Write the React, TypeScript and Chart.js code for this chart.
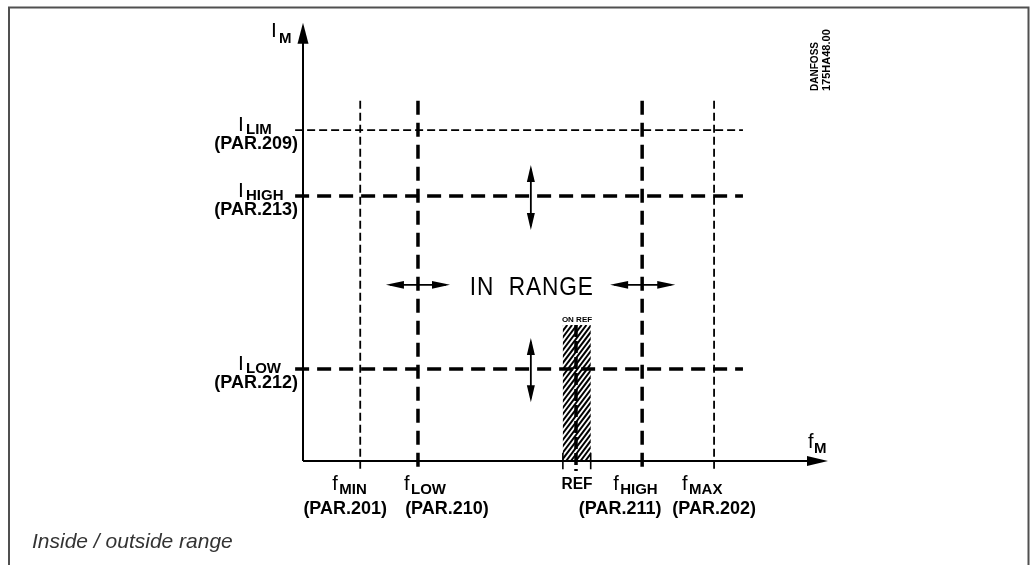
import React, { useEffect, useRef } from "react";
import { Chart, registerables } from "chart.js";

Chart.register(...registerables);

// ---- data (diagram units: x = motor frequency, y = motor current, 0..100) ----
const currentNames = ["LIM", "HIGH", "LOW"];
const currentPars = ["(PAR.209)", "(PAR.213)", "(PAR.212)"];
const currentLevels = [75.9, 60.8, 21.1];

const freqNames = ["MIN", "LOW", "HIGH", "MAX"];
const freqPars = ["(PAR.201)", "(PAR.210)", "(PAR.211)", "(PAR.202)"];
const freqLevels = [10.9, 21.9, 64.6, 78.3];

const refBand = [49.5, 52.0, 54.8];
const refBandTop = 31.2;
const hLineSpan = [-1.5, 83.8];
const vLineSpan = [-2.3, 82.6];
const axisMax = [100, 100.5];

const inRangeText = "IN RANGE";
const inRangeLevel = 40.4;
const currentArrowFreq = 43.4;
const currentArrowSpans = [
  [53.0, 67.9],
  [13.5, 28.2],
];
const freqArrowSpans = [
  [15.8, 28.0],
  [58.5, 70.9],
];

const caption = "Inside / outside range";
const stampLines = ["DANFOSS", "175HA48.00"];

// ---- layout / style (not data) ----
const FONT = '"Liberation Sans", Arial, sans-serif';
const THICK = { w: 3.5, dash: [14, 8] };
const THIN = { w: 1.8, dash: [8, 4] };
const freqLabelShift = [-28, -14, -29, -32];
const freqParShift = [-15, 29, -22, 0];
const thinCurrent = [true, false, false];
const thinFreq = [true, false, false, true];

function seg(pts: number[][], w: number, dash: number[]) {
  return {
    type: "scatter" as const,
    data: pts.map((p) => ({ x: p[0], y: p[1] })),
    showLine: true,
    borderColor: "#000",
    backgroundColor: "#000",
    borderWidth: w,
    borderDash: dash,
    borderCapStyle: "butt" as const,
    pointRadius: 0,
    pointHoverRadius: 0,
    clip: false as any,
  };
}

function buildDatasets() {
  const ds: any[] = [];
  ds.push(seg([[0, 0], [axisMax[0] - 3, 0]], 2, []));
  ds.push(seg([[0, 0], [0, axisMax[1] - 3]], 2, []));
  currentLevels.forEach((v, i) => {
    const st = thinCurrent[i] ? THIN : THICK;
    ds.push(seg([[hLineSpan[0], v], [hLineSpan[1], v]], st.w, st.dash));
  });
  freqLevels.forEach((v, i) => {
    const st = thinFreq[i] ? THIN : THICK;
    ds.push(seg([[v, vLineSpan[1]], [v, vLineSpan[0]]], st.w, st.dash));
  });
  ds.push(seg([[refBand[1], refBandTop], [refBand[1], vLineSpan[0]]], THICK.w, [12, 4]));
  ds.push(seg([[refBand[0], 1.9], [refBand[0], -1.9]], 1.6, []));
  ds.push(seg([[refBand[2], 1.9], [refBand[2], -1.9]], 1.6, []));
  return ds;
}

function head(ctx: CanvasRenderingContext2D, tx: number, ty: number, dx: number, dy: number, len: number, hw: number) {
  const bx = tx - dx * len;
  const by = ty - dy * len;
  ctx.beginPath();
  ctx.moveTo(tx, ty);
  ctx.lineTo(bx - dy * hw, by + dx * hw);
  ctx.lineTo(bx + dy * hw, by - dx * hw);
  ctx.closePath();
  ctx.fill();
}

function doubleArrow(ctx: CanvasRenderingContext2D, x1: number, y1: number, x2: number, y2: number, len: number, hw: number) {
  const L = Math.hypot(x2 - x1, y2 - y1);
  const dx = (x2 - x1) / L;
  const dy = (y2 - y1) / L;
  ctx.lineWidth = 1.8;
  ctx.setLineDash([]);
  ctx.beginPath();
  ctx.moveTo(x1 + dx * 4, y1 + dy * 4);
  ctx.lineTo(x2 - dx * 4, y2 - dy * 4);
  ctx.stroke();
  head(ctx, x2, y2, dx, dy, len, hw);
  head(ctx, x1, y1, -dx, -dy, len, hw);
}

function txt(ctx: CanvasRenderingContext2D, s: string, x: number, y: number, font: string, align: CanvasTextAlign = "left", maxW?: number) {
  ctx.font = font + " " + FONT;
  ctx.textAlign = align;
  ctx.textBaseline = "alphabetic";
  if (maxW) ctx.fillText(s, x, y, maxW);
  else ctx.fillText(s, x, y);
}

const diagramPlugin = {
  id: "diagram",
  beforeDatasetsDraw(chart: any) {
    const { ctx, scales } = chart;
    const X = (v: number) => scales.x.getPixelForValue(v);
    const Y = (v: number) => scales.y.getPixelForValue(v);
    ctx.save();
    ctx.strokeStyle = "#505050";
    ctx.lineWidth = 2;
    ctx.setLineDash([]);
    ctx.beginPath();
    ctx.moveTo(9, 565);
    ctx.lineTo(9, 7.5);
    ctx.lineTo(1028.5, 7.5);
    ctx.lineTo(1028.5, 565);
    ctx.stroke();
    const bx0 = X(refBand[0]);
    const bx1 = X(refBand[2]);
    const by0 = Y(refBandTop);
    const by1 = Y(0);
    ctx.beginPath();
    ctx.rect(bx0, by0, bx1 - bx0, by1 - by0);
    ctx.clip();
    ctx.strokeStyle = "#000";
    ctx.lineWidth = 2;
    const h = by1 - by0;
    const k = 0.75;
    for (let sx = bx0 - h * k - 10; sx < bx1 + 10; sx += 4.8) {
      ctx.beginPath();
      ctx.moveTo(sx, by1);
      ctx.lineTo(sx + h * k, by0);
      ctx.stroke();
    }
    ctx.restore();
  },
  afterDatasetsDraw(chart: any) {
    const { ctx, scales } = chart;
    const X = (v: number) => scales.x.getPixelForValue(v);
    const Y = (v: number) => scales.y.getPixelForValue(v);
    ctx.save();
    ctx.fillStyle = "#000";
    ctx.strokeStyle = "#000";
    const ax = X(0);
    const ay = Y(0);
    head(ctx, X(axisMax[0]), ay, 1, 0, 21, 5);
    head(ctx, ax, Y(axisMax[1]), 0, -1, 21, 5.5);
    const yTop = Y(axisMax[1]);
    txt(ctx, "I", ax - 32, yTop + 14, "21px");
    txt(ctx, "M", ax - 24, yTop + 20, "bold 15px");
    const xTip = X(axisMax[0]);
    txt(ctx, "f", xTip - 20, ay - 13, "20px");
    txt(ctx, "M", xTip - 14, ay - 8, "bold 15px");
    currentNames.forEach((n, i) => {
      const py = Y(currentLevels[i]);
      txt(ctx, "I", ax - 65, py + 1, "21px");
      txt(ctx, n, ax - 57, py + 4, "bold 15px");
      txt(ctx, currentPars[i], ax - 5, py + 19, "bold 18px", "right", 86);
    });
    freqNames.forEach((n, i) => {
      const px = X(freqLevels[i]);
      const l = px + freqLabelShift[i];
      txt(ctx, "f", l, ay + 29, "20px");
      txt(ctx, n, l + 7, ay + 33, "bold 15px");
      txt(ctx, freqPars[i], px + freqParShift[i], ay + 53, "bold 18px", "center", 86);
    });
    txt(ctx, "REF", X(refBand[1]) + 1, ay + 28, "bold 16px", "center", 31);
    txt(ctx, "ON REF", X(refBand[1]) + 1, Y(refBandTop) - 3, "bold 8px", "center", 33);
    const ir = Y(inRangeLevel);
    (ctx as any).letterSpacing = "1px";
    (ctx as any).wordSpacing = "8px";
    txt(ctx, inRangeText, X(currentArrowFreq) + 1, ir + 10, "25px", "center", 124);
    (ctx as any).letterSpacing = "0px";
    (ctx as any).wordSpacing = "0px";
    freqArrowSpans.forEach((s) => doubleArrow(ctx, X(s[0]), ir, X(s[1]), ir, 18, 3.8));
    currentArrowSpans.forEach((s) =>
      doubleArrow(ctx, X(currentArrowFreq), Y(s[1]), X(currentArrowFreq), Y(s[0]), 17, 4)
    );
    ctx.save();
    ctx.translate(818, 91);
    ctx.rotate(-Math.PI / 2);
    txt(ctx, stampLines[0], 0, 0, "bold 11px", "left", 49);
    ctx.restore();
    ctx.save();
    ctx.translate(830, 91);
    ctx.rotate(-Math.PI / 2);
    txt(ctx, stampLines[1], 0, 0, "bold 11px", "left", 64);
    ctx.restore();
    ctx.fillStyle = "#333";
    txt(ctx, caption, 32, 548, "italic 21px", "left", 202);
    ctx.restore();
  },
};

export default function App() {
  const ref = useRef<HTMLCanvasElement | null>(null);
  useEffect(() => {
    if (!ref.current) return;
    const chart = new Chart(ref.current, {
      type: "scatter",
      data: { datasets: buildDatasets() },
      options: {
        animation: false,
        responsive: false,
        devicePixelRatio: 1,
        events: [],
        layout: { padding: { left: 303, right: 1036 - 828, top: 25, bottom: 565 - 461 } },
        scales: {
          x: { type: "linear", min: 0, max: 100, display: false },
          y: { type: "linear", min: 0, max: 100, display: false },
        },
        plugins: {
          legend: { display: false },
          tooltip: { enabled: false },
          title: { display: false },
        },
      },
      plugins: [diagramPlugin],
    });
    return () => chart.destroy();
  }, []);
  return (
    <div style={{ position: "absolute", left: 0, top: 0, width: 1036, height: 565, background: "#fff" }}>
      <canvas ref={ref} width={1036} height={565} style={{ width: 1036, height: 565, display: "block" }} />
    </div>
  );
}
